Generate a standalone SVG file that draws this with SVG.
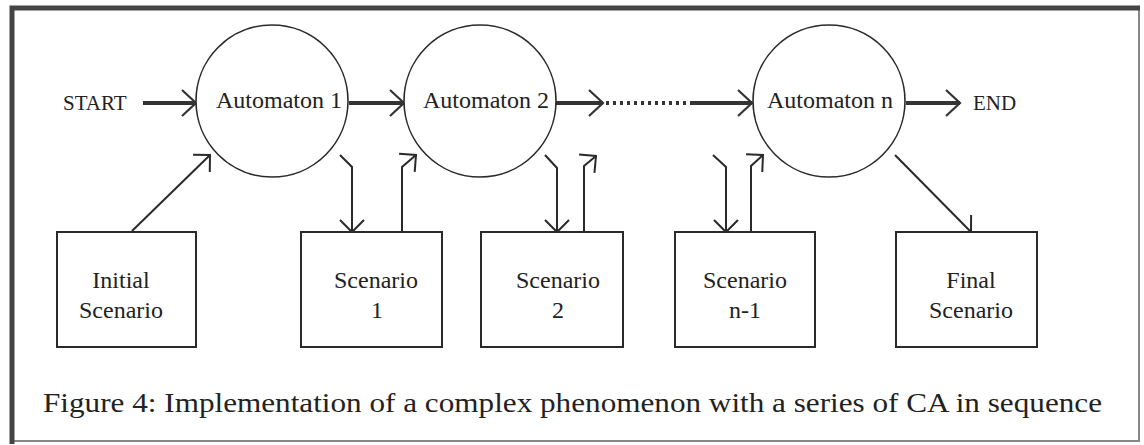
<svg xmlns="http://www.w3.org/2000/svg" width="1144" height="445" viewBox="0 0 1144 445">
<style>
text{font-family:"Liberation Serif","Times New Roman",serif;fill:#222}
.lbl{font-size:24px;text-anchor:middle}
.io{font-size:21px}
.cap{font-size:28px}
.node{fill:#fff;stroke:#2a2a2a;stroke-width:2}
.circ{fill:#fff;stroke:#2a2a2a;stroke-width:1.6}
.thick{fill:none;stroke:#333;stroke-width:4}
.thin{fill:none;stroke:#2a2a2a;stroke-width:2}
.dots{fill:none;stroke:#333;stroke-width:4;stroke-dasharray:3 4}
</style>
<defs>
<marker id="chevB" markerUnits="userSpaceOnUse" viewBox="-16 -15 18 30" refX="0" refY="0" markerWidth="18" markerHeight="30" orient="auto" overflow="visible">
<path d="M-14,-13 L0,0 L-14,13" fill="none" stroke="#333" stroke-width="2.2"/>
</marker>
<marker id="chev" markerUnits="userSpaceOnUse" viewBox="-14 -14 16 28" refX="0" refY="0" markerWidth="16" markerHeight="28" orient="auto" overflow="visible">
<path d="M-12,-12 L0,0 L-12,12" fill="none" stroke="#2a2a2a" stroke-width="2"/>
</marker>
</defs>
<rect x="0" y="0" width="1144" height="445" fill="#fff"/>
<g id="frame">
<rect x="12" y="8" width="1127" height="433" fill="none" stroke="#888" stroke-width="2"/>
<path d="M12,444 V8 H1140" fill="none" stroke="#444" stroke-width="5"/>
</g>
<g id="connectors">
<line class="thick" x1="143" y1="103" x2="196" y2="103" marker-end="url(#chevB)"/>
<line class="thick" x1="349" y1="103" x2="404" y2="103" marker-end="url(#chevB)"/>
<line class="thick" x1="556" y1="103" x2="603" y2="103" marker-end="url(#chevB)"/>
<line class="dots" x1="606" y1="103" x2="692" y2="103"/>
<line class="thick" x1="692" y1="103" x2="752" y2="103" marker-end="url(#chevB)"/>
<line class="thick" x1="906" y1="103" x2="960" y2="103" marker-end="url(#chevB)"/>
<line class="thin" x1="132" y1="231" x2="210" y2="155" marker-end="url(#chev)"/>
<polyline class="thin" points="340,155 352,167 352,232" marker-end="url(#chev)"/>
<polyline class="thin" points="402,232 402,167 416,155" marker-end="url(#chev)"/>
<polyline class="thin" points="545,155 557,168 557,232" marker-end="url(#chev)"/>
<polyline class="thin" points="584,232 584,166 596,156" marker-end="url(#chev)"/>
<polyline class="thin" points="713,155 726,167 726,232" marker-end="url(#chev)"/>
<polyline class="thin" points="751,232 751,166 763,155" marker-end="url(#chev)"/>
<line class="thin" x1="895" y1="155" x2="971" y2="232" marker-end="url(#chev)"/>
</g>
<g id="start"><text class="io" x="63" y="110">START</text></g>
<g id="end"><text class="io" x="973" y="110">END</text></g>
<g id="automaton1"><circle class="circ" cx="272" cy="101" r="76"/><text class="lbl" x="279" y="108">Automaton 1</text></g>
<g id="automaton2"><circle class="circ" cx="480" cy="101" r="76"/><text class="lbl" x="486" y="108">Automaton 2</text></g>
<g id="automatonN"><circle class="circ" cx="829" cy="101" r="76"/><text class="lbl" x="830" y="108">Automaton n</text></g>
<g id="initial"><rect class="node" x="57" y="232" width="139" height="115"/><text class="lbl" x="121" y="288">Initial</text><text class="lbl" x="121" y="318">Scenario</text></g>
<g id="scenario1"><rect class="node" x="301" y="232" width="141" height="115"/><text class="lbl" x="376" y="288">Scenario</text><text class="lbl" x="377" y="318">1</text></g>
<g id="scenario2"><rect class="node" x="481" y="232" width="142" height="115"/><text class="lbl" x="558" y="288">Scenario</text><text class="lbl" x="558" y="318">2</text></g>
<g id="scenarioN1"><rect class="node" x="675" y="232" width="140" height="115"/><text class="lbl" x="745" y="288">Scenario</text><text class="lbl" x="745" y="318">n-1</text></g>
<g id="final"><rect class="node" x="896" y="232" width="141" height="115"/><text class="lbl" x="971" y="288">Final</text><text class="lbl" x="971" y="318">Scenario</text></g>
<g id="caption"><text class="cap" x="43" y="412" textLength="1059" lengthAdjust="spacingAndGlyphs">Figure 4: Implementation of a complex phenomenon with a series of CA in sequence</text></g>
</svg>
